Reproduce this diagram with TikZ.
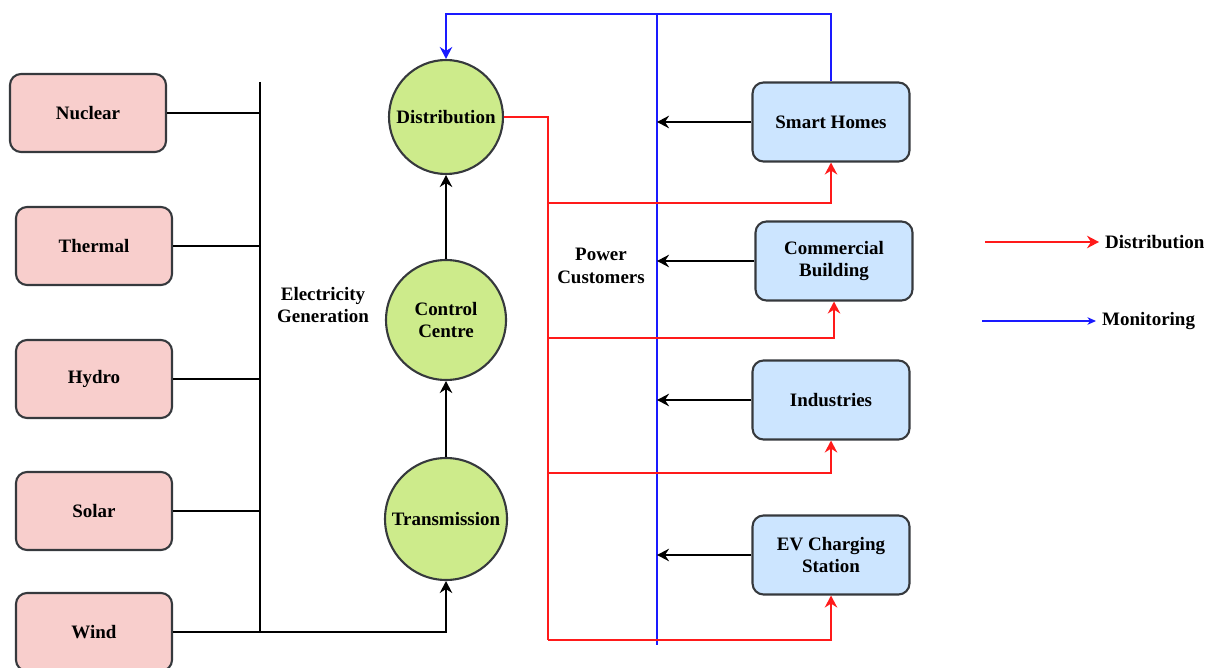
\documentclass[tikz,border=0pt]{standalone}
\usepackage{fontspec}
\setmainfont{Liberation Serif}
\usetikzlibrary{arrows.meta,positioning}
\definecolor{boxline}{HTML}{36393D}
\definecolor{sourcefill}{HTML}{F8CECC}
\definecolor{stagefill}{HTML}{CDEB8B}
\definecolor{custfill}{HTML}{CCE5FF}
\definecolor{pwrred}{HTML}{FF1A1A}
\definecolor{monblue}{HTML}{1A1AFF}

\begin{document}
\begin{tikzpicture}[
    x=0.02cm, y=-0.02cm,
    font=\bfseries\fontsize{10.8}{13}\selectfont,
    source/.style={draw=boxline, fill=sourcefill, rounded corners=0.22cm, line width=1.2pt, minimum width=3.12cm, minimum height=1.56cm},
    stage/.style={circle, draw=boxline, fill=stagefill, line width=1.2pt, minimum size=2.4cm, inner sep=0pt, align=center},
    customer/.style={draw=boxline, fill=custfill, rounded corners=0.22cm, line width=1.2pt, minimum width=3.14cm, minimum height=1.58cm, align=center},
    wire/.style={line width=1.25pt},
    power/.style={draw=pwrred, line width=1.5pt},
    monitor/.style={draw=monblue, line width=1.2pt},
    >={Stealth[length=0.24cm, width=0.25cm, inset=0.08cm]}
  ]
    \useasboundingbox (0,0) rectangle (1216,668);

    % generation sources
    \node[source] (nuclear) at (88,113) {Nuclear};
    \node[source] (thermal) at (94,246) {Thermal};
    \node[source] (hydro) at (94,379) {Hydro};
    \node[source] (solar) at (94,511) {Solar};
    \node[source] (wind) at (94,632) {Wind};

    % grid stages
    \node[stage, minimum size=2.28cm] (distribution) at (446,117) {Distribution};
    \node[stage] (control) at (446,320) {Control\\Centre};
    \node[stage, minimum size=2.44cm] (transmission) at (446,519) {Transmission};

    % customers
    \node[customer] (homes) at (831,122) {Smart Homes};
    \node[customer] (commercial) at (834,261) {Commercial\\Building};
    \node[customer] (industries) at (831,400) {Industries};
    \node[customer] (ev) at (831,555) {EV Charging\\Station};

    \node[align=center] (generation) at (323,305) {Electricity\\Generation};
    \node[align=center] (customers) at (601,266) {Power\\Customers};

    % generation bus
    \coordinate (bustop) at (260,82);
    \coordinate (busbot) at (260,632);
    \draw[wire] (bustop) -- (busbot);
    \foreach \src in {nuclear,thermal,hydro,solar}
      \draw[wire] (\src.east) -- (\src.east -| bustop);
    \draw[wire,->] (wind.east) -- (wind.east -| transmission) -- (transmission);
    \draw[wire,->] (transmission) -- (control);
    \draw[wire,->] (control) -- (distribution);

    % monitoring
    \coordinate (montop) at (657,14);
    \coordinate (monbot) at (657,645);
    \draw[monitor] (montop) -- (monbot);
    \draw[monitor,->] (homes.north) -- (homes.north |- montop) -- (distribution.north |- montop) -- (distribution);
    \foreach \cust in {homes,commercial,industries,ev}
      \draw[wire,->] (\cust.west) -- (\cust.west -| montop);

    % distribution
    \coordinate (pwrbot) at (548,640);
    \draw[power] (distribution.east) -| (pwrbot);
    \foreach \cust/\tapy in {homes/203,commercial/338,industries/473,ev/640} {
      \coordinate (tap-\cust) at (548,\tapy);
      \draw[power,->] (tap-\cust) -| (\cust.south);
    }

    % legend
    \coordinate (legpwr) at (985,242);
    \node[anchor=west] (legdist) at (1099,242) {Distribution};
    \draw[power,->] (legpwr) -- (legdist.west);
    \coordinate (legmon) at (982,321);
    \node[anchor=west] (legmonitor) at (1096,321) {Monitoring};
    \draw[monitor,-{Stealth[length=0.17cm, width=0.15cm, inset=0.05cm]}] (legmon) -- (legmonitor.west);
  \end{tikzpicture}
\end{document}
